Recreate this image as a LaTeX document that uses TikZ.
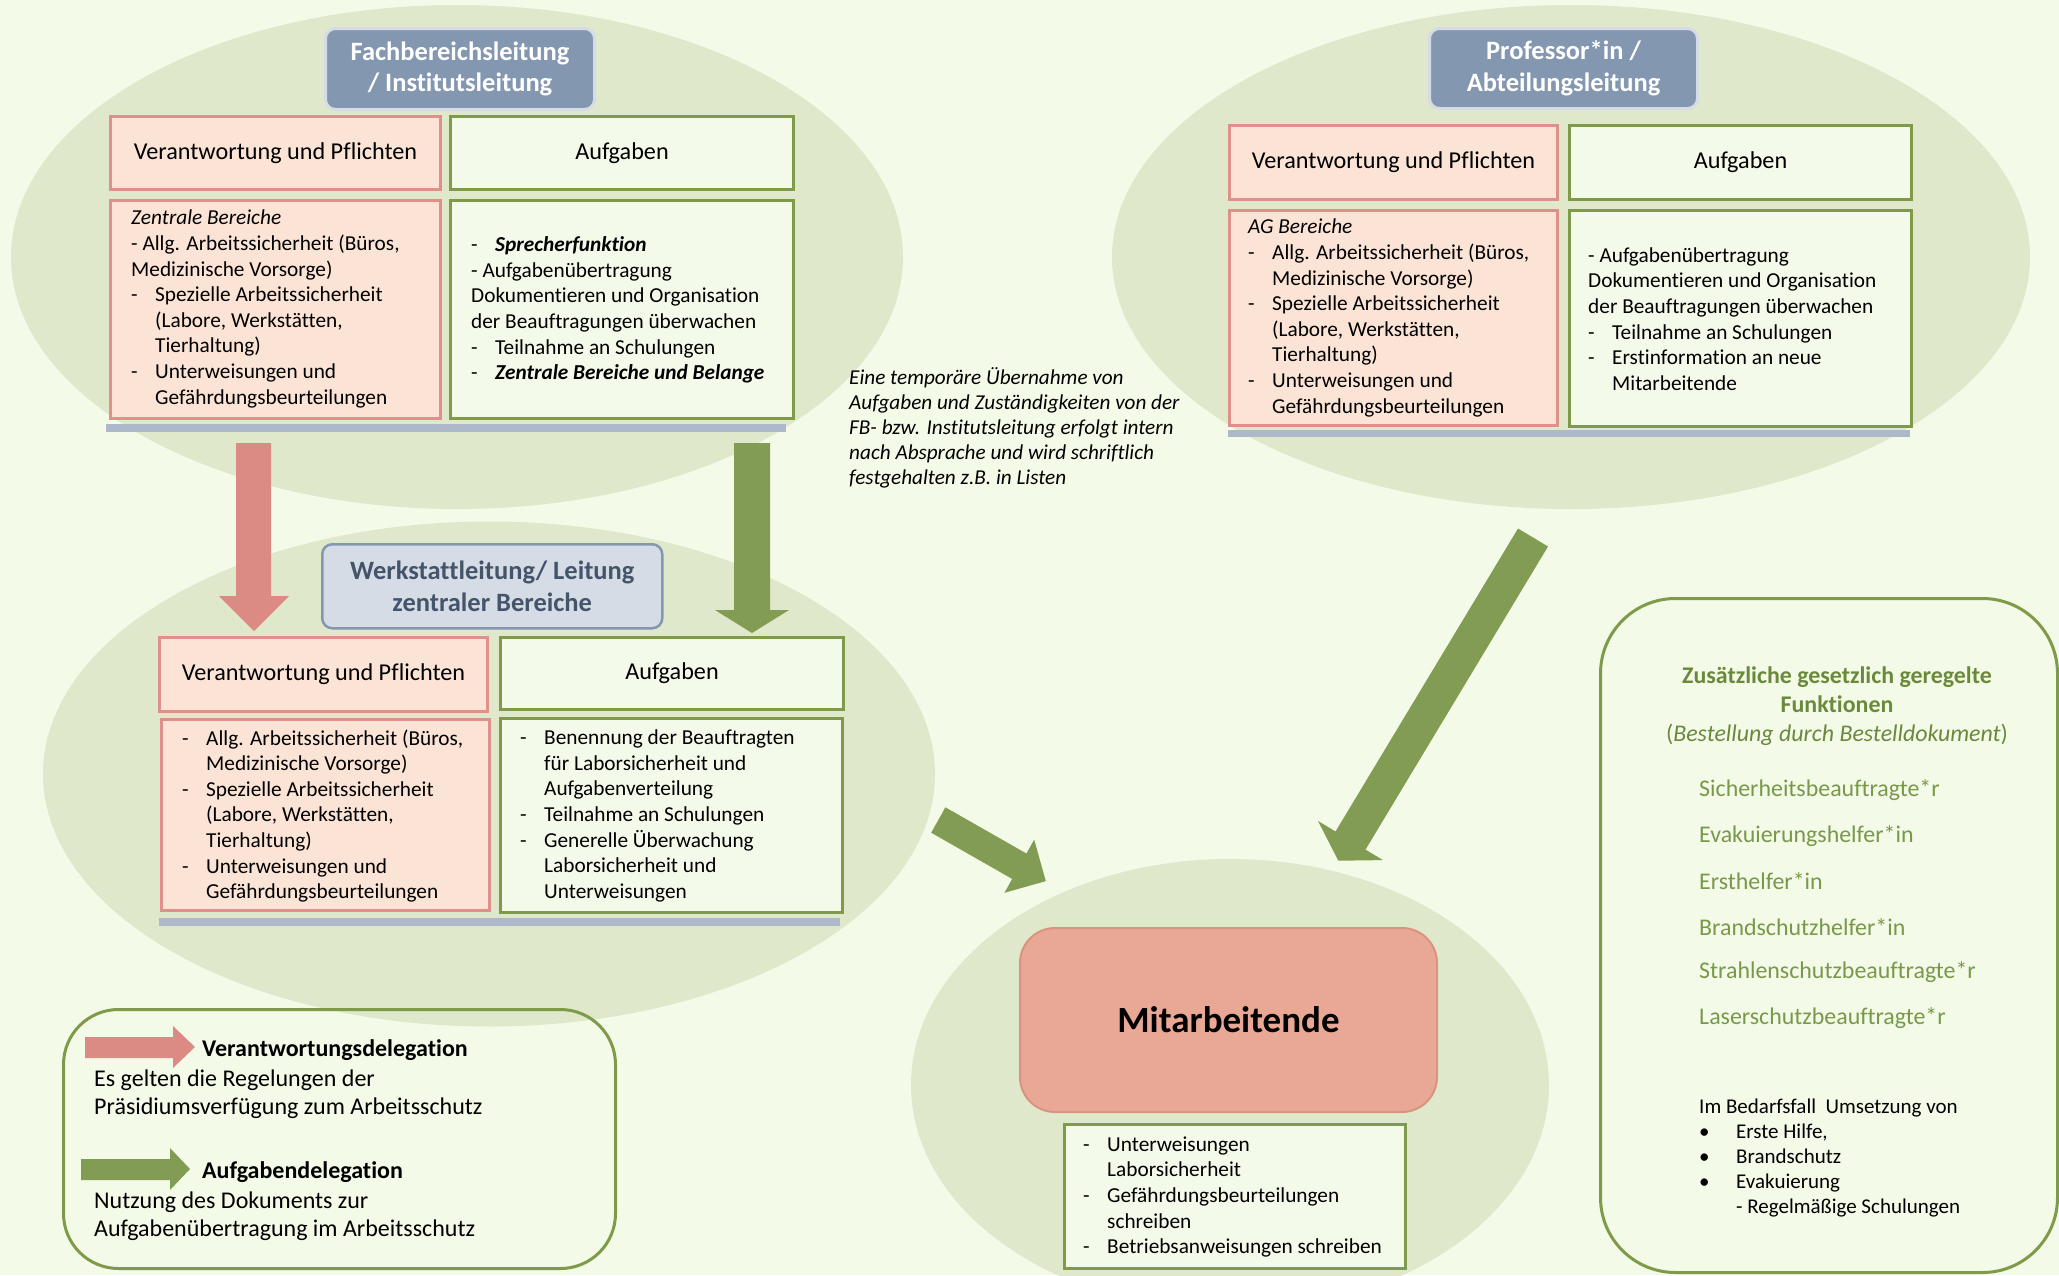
\documentclass[tikz,border=0pt]{standalone}
\usepackage{fontspec}
\setmainfont{Carlito}[Ligatures={NoCommon,NoRare,NoContextual}, Contextuals=NoAlternate]
\usetikzlibrary{shapes.geometric}
\definecolor{bg}{HTML}{F3FAE8}
\definecolor{ell}{HTML}{DFE8CB}
\definecolor{olive}{HTML}{839C53}
\definecolor{oliveline}{HTML}{7F9A48}
\definecolor{rosefill}{HTML}{FBE4D6}
\definecolor{roseline}{HTML}{E0908A}
\definecolor{rosearrow}{HTML}{DB8A84}
\definecolor{slate}{HTML}{8497B0}
\definecolor{slatelight}{HTML}{D6DCE5}
\definecolor{barc}{HTML}{ADB9CA}
\definecolor{slatetext}{HTML}{44546A}
\definecolor{mfill}{HTML}{E9A895}
\definecolor{mline}{HTML}{D99480}
\definecolor{gtitle}{HTML}{6B893B}
\definecolor{gitem}{HTML}{799849}
\definecolor{boxfill}{HTML}{F4FAEA}
\newcommand\fbody{\fontsize{21.3pt}{25.6pt}\selectfont}
\newcommand\fhdr{\fontsize{24.2pt}{29pt}\selectfont}
\newcommand\fttl{\fontsize{26.5pt}{31.5pt}\selectfont\bfseries}
\newcommand\fleg{\fontsize{24pt}{28pt}\selectfont}
\newcommand\fnote{\fontsize{21.2pt}{25pt}\selectfont\itshape}
\newcommand\fmit{\fontsize{37pt}{44pt}\selectfont\bfseries}
\newcommand\frt{\fontsize{23.9pt}{29pt}\selectfont}
\newcommand\fri{\fontsize{23.9pt}{28pt}\selectfont}
\newcommand\frs{\fontsize{21pt}{25.2pt}\selectfont}
\newcommand\itm[1]{\makebox[24pt][l]{-}#1}
\newcommand\ind{\hspace*{24pt}}
\tikzset{
  ellbg/.style={ellipse, fill=ell, inner sep=0pt},
  pinkbox/.style={draw=roseline, fill=rosefill, line width=3pt, inner sep=0pt, anchor=north west},
  greenbox/.style={draw=oliveline, fill=boxfill, line width=3pt, inner sep=0pt, anchor=north west},
  titlebox/.style={rounded corners=10pt, fill=slate, draw=slatelight, line width=3pt, text=white, font=\fttl, align=center, inner sep=0pt, anchor=north west},
  title2box/.style={rounded corners=10pt, fill=slatelight, draw=slate, line width=2.5pt, text=slatetext, font=\fttl, align=center, inner sep=0pt, anchor=north west},
  body/.style={font=\fbody, align=left, inner sep=0pt, anchor=west},
  hdr/.style={font=\fhdr},
  legtxt/.style={font=\fleg, align=left, inner sep=0pt, anchor=west},
  fitem/.style={font=\fri, text=gitem, inner sep=0pt, anchor=west},
}
\begin{document}
\begin{tikzpicture}[x=1pt,y=-1pt]
\useasboundingbox (0,0) rectangle (2059,1275);
\fill[bg] (0,0) rectangle (2059,1275);

% ellipses
\node[ellbg, minimum width=892pt, minimum height=504pt] (e1) at (457,257) {};
\node[ellbg, minimum width=918pt, minimum height=504pt] (e2) at (1571,257) {};
\node[ellbg, minimum width=892pt, minimum height=505pt] (e3) at (489,774) {};
\node[ellbg, minimum width=638pt, minimum height=452pt] (e4) at (1230,1085) {};

% ---------- top left ----------
\node[titlebox, minimum width=269pt, minimum height=81pt] (t1) at (324,27) {Fachbereichsleitung\\ / Institutsleitung};
\node[pinkbox, hdr, minimum width=330pt, minimum height=73pt] (h1l) at (109,115) {Verantwortung und Pflichten};
\node[greenbox, hdr, minimum width=343pt, minimum height=73pt] (h1r) at (449,115) {Aufgaben};
\node[pinkbox, minimum width=330pt, minimum height=218pt] (c1l) at (109,199) {};
\node[greenbox, minimum width=343pt, minimum height=218pt] (c1r) at (449,199) {};
\fill[barc] (106,424) rectangle (786,432);
\node[body] (c1lt) at (131,309) {\textit{Zentrale Bereiche}\\
- Allg. Arbeitssicherheit (Büros,\\
Medizinische Vorsorge)\\
\itm{Spezielle Arbeitssicherheit}\\
\ind(Labore, Werkstätten,\\
\ind Tierhaltung)\\
\itm{Unterweisungen und}\\
\ind Gefährdungsbeurteilungen};
\node[body] (c1rt) at (471,310) {\itm{\textbf{\textit{Sprecherfunktion}}}\\
- Aufgabenübertragung\\
Dokumentieren und Organisation\\
der Beauftragungen überwachen\\
\itm{Teilnahme an Schulungen}\\
\itm{\textbf{\textit{Zentrale Bereiche und Belange}}}};

% ---------- top right ----------
\node[titlebox, minimum width=268pt, minimum height=80pt] (t2) at (1428,27) {Professor*in /\\ Abteilungsleitung};
\node[pinkbox, hdr, minimum width=328pt, minimum height=74pt] (h2l) at (1228,124) {Verantwortung und Pflichten};
\node[greenbox, hdr, minimum width=342pt, minimum height=74pt] (h2r) at (1568,124) {Aufgaben};
\node[pinkbox, minimum width=328pt, minimum height=215pt] (c2l) at (1228,209) {};
\node[greenbox, minimum width=342pt, minimum height=216pt] (c2r) at (1568,209) {};
\fill[barc] (1228,430) rectangle (1910,437);
\node[body] (c2lt) at (1248,318) {\textit{AG Bereiche}\\
\itm{Allg. Arbeitssicherheit (Büros,}\\
\ind Medizinische Vorsorge)\\
\itm{Spezielle Arbeitssicherheit}\\
\ind(Labore, Werkstätten,\\
\ind Tierhaltung)\\
\itm{Unterweisungen und}\\
\ind Gefährdungsbeurteilungen};
\node[body] (c2rt) at (1588,319) {- Aufgabenübertragung\\
Dokumentieren und Organisation\\
der Beauftragungen überwachen\\
\itm{Teilnahme an Schulungen}\\
\itm{Erstinformation an neue}\\
\ind Mitarbeitende};

% ---------- middle left ----------
\node[title2box, minimum width=340pt, minimum height=84pt] (t3) at (321,543) {Werkstattleitung/ Leitung\\ zentraler Bereiche};
\node[pinkbox, hdr, minimum width=328pt, minimum height=74pt] (h3l) at (158,636) {Verantwortung und Pflichten};
\node[greenbox, hdr, minimum width=343pt, minimum height=72pt] (h3r) at (499,636) {Aufgaben};
\node[pinkbox, minimum width=328pt, minimum height=191pt] (c3l) at (160,718) {};
\node[greenbox, minimum width=342pt, minimum height=194pt] (c3r) at (499,717) {};
\fill[barc] (159,918) rectangle (840,926);
\node[body] (c3lt) at (182,816) {\itm{Allg. Arbeitssicherheit (Büros,}\\
\ind Medizinische Vorsorge)\\
\itm{Spezielle Arbeitssicherheit}\\
\ind(Labore, Werkstätten,\\
\ind Tierhaltung)\\
\itm{Unterweisungen und}\\
\ind Gefährdungsbeurteilungen};
\node[body] (c3rt) at (520,816) {\itm{Benennung der Beauftragten}\\
\ind für Laborsicherheit und\\
\ind Aufgabenverteilung\\
\itm{Teilnahme an Schulungen}\\
\itm{Generelle Überwachung}\\
\ind Laborsicherheit und\\
\ind Unterweisungen};

% delegation arrows
\fill[rosearrow] (236,443) -- (271,443) -- (271,596) -- (289,596) -- (254,631) -- (219,596) -- (236,596) -- cycle;
\fill[olive] (734,443) -- (770,443) -- (770,610) -- (789,610) -- (752,633) -- (715,610) -- (734,610) -- cycle;
\fill[olive] (1518,528.5) -- (1548,546.5) -- (1365.5,849.6) -- (1383,860.1) -- (1338.3,860.7) -- (1318,820.9) -- (1335.5,831.5) -- cycle;
\fill[olive] (945.4,807.3) -- (1026.4,853.5) -- (1034.2,839.6) -- (1045.8,881.1) -- (1004.4,892.8) -- (1012.2,878.9) -- (931.2,832.7) -- cycle;

% note
\node[font=\fnote, align=left, inner sep=0pt, anchor=west] (note) at (849,428) {Eine temporäre Übernahme von\\
Aufgaben und Zuständigkeiten von der\\
FB- bzw. Institutsleitung erfolgt intern\\
nach Absprache und wird schriftlich\\
festgehalten z.B. in Listen};

% ---------- Mitarbeitende ----------
\node[draw=mline, fill=mfill, line width=2pt, rounded corners=35pt, minimum width=417pt, minimum height=184pt, font=\fmit, inner sep=0pt] (mit) at (1228.5,1020) {Mitarbeitende};
\node[greenbox, minimum width=341pt, minimum height=144pt] (mt) at (1063,1123) {};
\node[body] (mtt) at (1083,1197) {\itm{Unterweisungen}\\
\ind Laborsicherheit\\
\itm{Gefährdungsbeurteilungen}\\
\ind schreiben\\
\itm{Betriebsanweisungen schreiben}};

% ---------- legend ----------
\node[draw=oliveline, line width=3pt, rounded corners=55pt, minimum width=552pt, minimum height=259pt, inner sep=0pt, anchor=north west] (leg) at (62,1008) {};
\fill[rosearrow] (85,1037) -- (173,1037) -- (173,1026) -- (195,1047) -- (173,1068) -- (173,1058) -- (85,1058) -- cycle;
\node[legtxt, font=\fleg\bfseries] (leg1) at (202,1050) {Verantwortungsdelegation};
\node[legtxt] (leg1t) at (94,1094) {Es gelten die Regelungen der\\ Präsidiumsverfügung zum Arbeitsschutz};
\fill[olive] (81,1159) -- (170,1159) -- (170,1148) -- (190,1169) -- (170,1190) -- (170,1180) -- (81,1180) -- cycle;
\node[legtxt, font=\fleg\bfseries] (leg2) at (202,1172) {Aufgabendelegation};
\node[legtxt] (leg2t) at (94,1216) {Nutzung des Dokuments zur\\ Aufgabenübertragung im Arbeitsschutz};

% ---------- right box ----------
\node[draw=oliveline, line width=3pt, rounded corners=75pt, minimum width=457pt, minimum height=674pt, inner sep=0pt, anchor=north west] (fx) at (1599,597) {};
\node[font=\frt, text=gtitle, align=center, inner sep=0pt] (fxt) at (1837,706) {\textbf{Zusätzliche gesetzlich geregelte}\\ \textbf{Funktionen}\\ (\textit{Bestellung durch Bestelldokument})};
\node[fitem] (f1) at (1699,790) {Sicherheitsbeauftragte*r};
\node[fitem] (f2) at (1699,836) {Evakuierungshelfer*in};
\node[fitem] (f3) at (1699,881) {Ersthelfer*in};
\node[fitem] (f4) at (1699,927) {Brandschutzhelfer*in};
\node[fitem] (f5) at (1699,972) {Strahlenschutzbeauftragte*r};
\node[fitem] (f6) at (1699,1018) {Laserschutzbeauftragte*r};
\node[font=\frs, align=left, inner sep=0pt, anchor=west] (fb) at (1699,1158) {Im Bedarfsfall\ \ Umsetzung von\\
\makebox[37pt][l]{•}Erste Hilfe,\\
\makebox[37pt][l]{•}Brandschutz\\
\makebox[37pt][l]{•}Evakuierung\\
\hspace*{37pt}- Regelmäßige Schulungen};
\end{tikzpicture}
\end{document}
